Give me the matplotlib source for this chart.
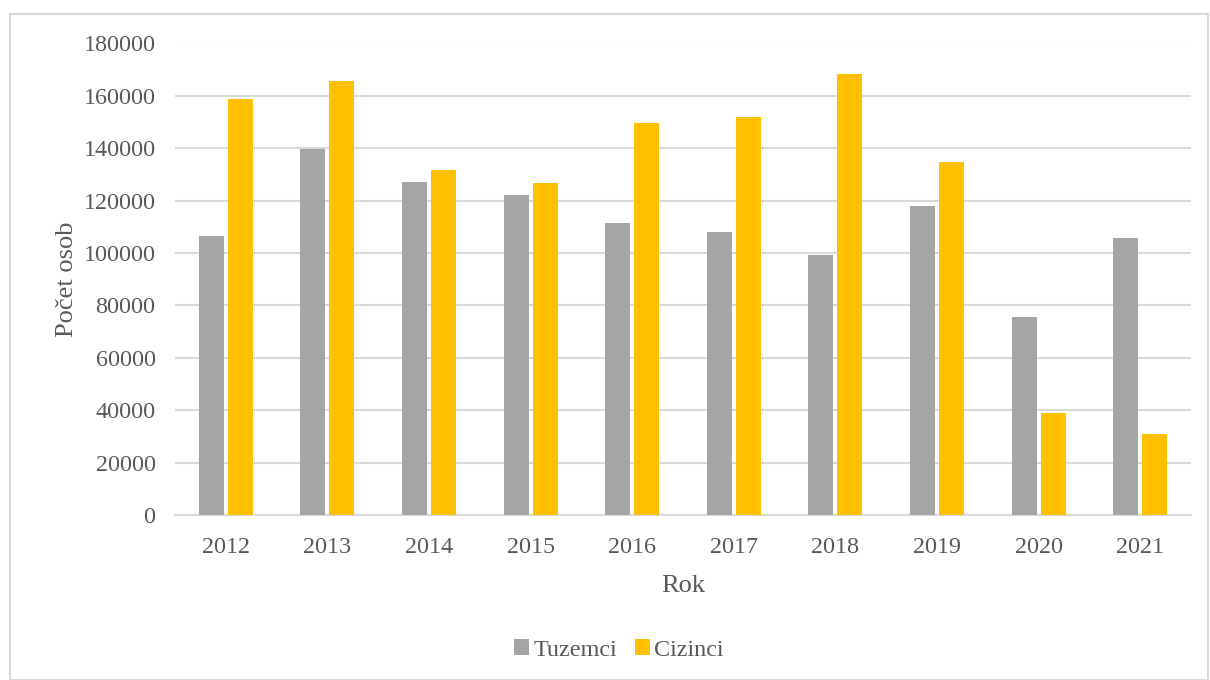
import numpy as np
import matplotlib
matplotlib.use("Agg")
import matplotlib.pyplot as plt
from matplotlib.patches import Rectangle

years = ["2012", "2013", "2014", "2015", "2016", "2017", "2018", "2019", "2020", "2021"]
tuzemci = [106500, 139700, 127000, 122100, 111400, 107900, 99400, 118000, 75600, 105800]
cizinci = [158900, 165800, 131600, 126600, 149700, 151800, 168400, 134800, 38900, 30900]
yticks = [0, 20000, 40000, 60000, 80000, 100000, 120000, 140000, 160000, 180000]

plt.rcParams['font.family'] = ['Liberation Serif', 'DejaVu Serif']
txt = '#595959'

fig = plt.figure(figsize=(12.1, 6.8), dpi=100)
ax = fig.add_axes([175 / 1210, 1 - 515 / 680, (1191 - 175) / 1210, (515 - 43.5) / 680])

# frame around the whole chart
fig.patches.append(Rectangle((10 / 1210, 0), 1198 / 1210, 1 - 14 / 680, transform=fig.transFigure,
                             fill=False, edgecolor='#d9d9d9', linewidth=1.5))

x = np.arange(len(years))
w = 0.246
gap = 0.04
ax.bar(x - w / 2 - gap / 2, tuzemci, w, color='#a5a5a5', label='Tuzemci', zorder=3)
ax.bar(x + w / 2 + gap / 2, cizinci, w, color='#ffc000', label='Cizinci', zorder=3)

ax.set_xlim(-0.5, len(years) - 0.5)
ax.set_ylim(0, 180000)
ax.set_yticks(yticks)
ax.set_yticklabels([str(v) for v in yticks])
ax.set_xticks(x)
ax.set_xticklabels(years)
ax.yaxis.grid(True, color='#d9d9d9', linewidth=1.5, zorder=0)
ax.set_axisbelow(True)
for s in ['top', 'right', 'left']:
    ax.spines[s].set_visible(False)
ax.spines['bottom'].set_color('#d9d9d9')
ax.spines['bottom'].set_linewidth(1.5)
ax.tick_params(length=0, labelsize=17.4, colors=txt)
ax.tick_params(axis='y', pad=14)
ax.tick_params(axis='x', pad=16)

ax.set_xlabel('Rok', fontsize=19, color=txt, labelpad=12)
ax.set_ylabel('Počet osob', fontsize=19, color=txt, labelpad=4)

ax.legend(loc='center', bbox_to_anchor=(619 / 1210, 1 - 650 / 680), bbox_transform=fig.transFigure,
          ncol=2, frameon=False, fontsize=17.4, labelcolor=txt, handlelength=0.6, handleheight=0.6,
          handletextpad=0.2, columnspacing=0.75)

fig.savefig('out.png', dpi=100)
